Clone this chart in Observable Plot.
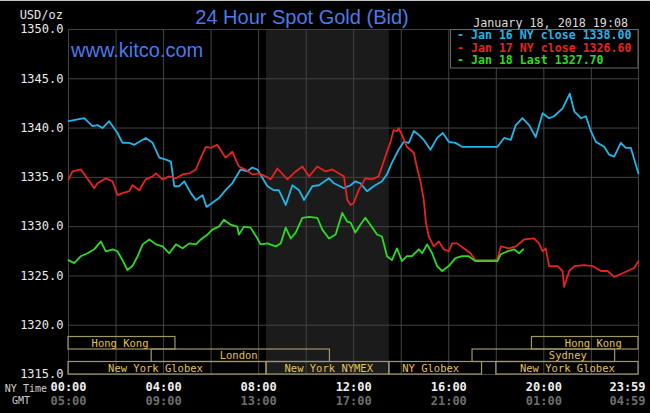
<!DOCTYPE html>
<html><head><meta charset="utf-8">
<script src="https://cdn.jsdelivr.net/npm/d3@7"></script>
<script src="https://cdn.jsdelivr.net/npm/@observablehq/plot@0.6"></script>
<style>
html,body{margin:0;padding:0;background:#000;}
#chart{width:650px;height:413px;overflow:hidden;}
#chart svg{display:block;}
</style></head><body><div id="chart"></div>
<script>
// ---- data (hours after midnight NY time, USD/oz) ----
const hours16 = [0,0.66,1.01,1.22,1.43,1.71,2.06,2.27,2.56,2.77,3.25,3.54,3.82,4.10,4.31,4.45,4.66,4.87,5.15,5.36,5.64,5.81,6.33,6.61,6.89,7.24,7.52,7.73,7.95,8.37,8.64,8.85,9.14,9.42,9.70,9.91,10.26,10.54,10.96,11.17,11.59,11.87,12.07,12.28,12.56,12.84,13.19,13.40,13.61,13.89,14.11,14.32,14.53,14.74,14.95,15.23,15.51,15.75,16.00,16.28,16.56,16.98,17.40,18.05,18.33,18.61,18.82,19.10,19.38,19.66,19.95,20.22,20.43,20.79,21.09,21.28,21.56,21.77,21.98,22.19,22.54,22.75,22.96,23.24,23.45,23.66,23.98];
const values16 = [1340.7,1341.0,1340.2,1340.3,1340.0,1340.7,1339.5,1338.5,1338.5,1338.3,1339.0,1338.5,1337.0,1336.8,1336.6,1334.1,1334.1,1334.6,1333.4,1332.7,1333.2,1332.0,1332.9,1333.7,1334.4,1335.8,1335.6,1336.0,1335.8,1334.1,1333.7,1333.7,1332.2,1334.2,1333.7,1332.7,1334.1,1334.2,1334.9,1334.4,1333.9,1334.2,1334.6,1334.4,1333.6,1334.1,1334.6,1335.3,1336.5,1337.8,1338.6,1338.5,1339.7,1339.3,1338.8,1337.8,1339.0,1339.5,1338.6,1338.5,1338.1,1338.1,1338.1,1338.1,1339.0,1338.8,1340.3,1341.0,1340.3,1339.1,1341.5,1341.0,1341.2,1342.0,1343.5,1341.7,1341.0,1341.2,1339.7,1338.6,1338.1,1337.3,1337.1,1338.5,1338.0,1338.0,1335.4];

const hours17 = [0,0.17,0.52,0.73,1.08,1.22,1.57,1.85,2.06,2.27,2.56,2.69,2.98,3.25,3.54,3.68,3.96,4.24,4.52,4.80,5.08,5.36,5.57,5.78,5.98,6.26,6.61,6.89,7.17,7.45,7.73,8.01,8.29,8.51,8.79,9.21,9.56,9.84,10.12,10.47,10.82,11.10,11.45,11.59,11.73,11.87,12.00,12.21,12.49,12.77,13.05,13.19,13.40,13.55,13.68,13.82,13.89,14.03,14.24,14.53,14.67,14.81,14.95,15.04,15.16,15.37,15.58,15.79,16.00,16.14,16.35,16.63,16.91,17.12,17.89,18.05,18.19,18.54,18.82,19.17,19.59,19.80,19.95,20.08,20.22,20.58,20.79,20.85,21.07,21.28,21.70,22.05,22.40,22.68,22.96,23.24,23.52,23.80,23.98];
const values17 = [1334.8,1335.6,1335.8,1335.1,1333.9,1334.4,1334.9,1334.6,1333.2,1333.4,1333.6,1334.2,1333.7,1334.8,1335.1,1335.4,1334.8,1335.1,1334.9,1335.3,1335.4,1335.8,1337.0,1338.1,1338.0,1338.3,1337.0,1337.6,1336.1,1335.8,1335.3,1335.4,1335.1,1334.8,1335.9,1334.8,1335.6,1336.1,1335.1,1336.1,1335.6,1335.8,1335.3,1335.1,1332.7,1332.2,1332.4,1333.7,1334.9,1334.8,1335.1,1336.1,1337.6,1338.6,1339.8,1339.7,1340.0,1339.3,1338.1,1337.5,1335.9,1334.6,1332.7,1330.4,1329.0,1328.0,1328.5,1327.7,1327.5,1328.3,1328.3,1327.8,1327.3,1326.6,1326.6,1326.7,1328.0,1327.8,1328.0,1328.7,1328.8,1328.3,1327.5,1327.8,1326.0,1326.0,1325.5,1323.9,1325.5,1326.0,1326.1,1326.0,1325.5,1325.5,1324.9,1325.2,1325.5,1325.8,1326.5];

const hours18 = [0,0.24,0.52,0.80,1.08,1.36,1.57,1.85,2.06,2.27,2.48,2.69,2.91,3.12,3.40,3.68,3.96,4.24,4.52,4.80,5.08,5.36,5.57,5.85,6.05,6.33,6.54,6.82,7.10,7.17,7.38,7.66,7.95,8.08,8.37,8.72,8.93,9.14,9.35,9.56,9.84,10.12,10.47,10.68,10.96,11.24,11.52,11.73,11.87,12.07,12.28,12.49,12.70,12.98,13.19,13.40,13.61,13.82,14.03,14.24,14.45,14.74,14.88,15.09,15.30,15.51,15.72,16.00,16.28,16.56,16.84,17.12,18.05,18.19,18.47,18.75,18.96,19.13];
const values18 = [1326.6,1326.3,1327.0,1327.3,1327.7,1328.5,1327.5,1327.7,1327.5,1326.6,1325.6,1326.0,1327.0,1328.2,1328.7,1328.2,1328.0,1327.3,1328.2,1327.8,1328.3,1328.2,1328.7,1329.2,1329.7,1330.0,1330.7,1330.2,1330.0,1329.2,1330.0,1329.9,1328.8,1328.2,1328.3,1328.0,1328.3,1329.9,1328.8,1329.4,1330.9,1331.0,1330.9,1329.7,1328.8,1329.2,1331.4,1330.5,1330.4,1329.4,1330.2,1330.9,1330.2,1329.2,1329.0,1327.0,1326.6,1327.8,1326.5,1327.0,1327.0,1327.7,1327.3,1328.2,1327.3,1326.0,1325.5,1326.0,1326.8,1327.0,1327.0,1326.5,1326.5,1327.2,1327.5,1327.7,1327.3,1327.7];

const seriesNames = ["Jan 16 NY close 1338.00", "Jan 17 NY close 1326.60", "Jan 18 Last 1327.70"];
const seriesColors = ["#21b5ea", "#e52420", "#2bdc24"];

const yTicks = [1315, 1320, 1325, 1330, 1335, 1340, 1345, 1350];
const gridHours = [0, 2, 4, 6, 8, 10, 12, 14, 16, 18, 20, 22, 23 + 59/60];
const tickHours = [0, 4, 8, 12, 16, 20, 23 + 59/60];
const nyLabels = ["00:00", "04:00", "08:00", "12:00", "16:00", "20:00", "23:59"];
const gmtLabels = ["05:00", "09:00", "13:00", "17:00", "21:00", "01:00", "04:59"];

const nymexShade = [8 + 20/60, 13.5];

const sessionNames = ["Hong Kong", "London", "New York Globex", "New York NYMEX", "NY Globex", "New York Globex", "Sydney", "Hong Kong"];
const sessionStart = [0, 3.5, 0, 8 + 20/60, 13.5, 18, 17, 19.5];
const sessionEnd   = [4.5, 11, 8 + 20/60, 13.5, 17.4, 23 + 59/60, 23, 23 + 59/60];
const sessionRow   = [0, 1, 2, 2, 2, 2, 1, 0];
const sessionLabelAt = [2.17, 7.16, 3.66, 10.95, 15.24, 20.99, 21.01, 22.08];

// ---- chart ----
const rowH = 1.268; // value units per session row
const rowTop = r => 1315 + (3 - r) * rowH;
const rowBot = r => 1315 + (2 - r) * rowH;
const idx = a => a.map((_, i) => i);
const mono = "DejaVu Sans Mono, monospace";
const sans = "Liberation Sans, Arial, sans-serif";

const chart = Plot.plot({
  width: 650, height: 413,
  marginLeft: 68, marginRight: 12, marginTop: 29, marginBottom: 39,
  style: {background: "#000", color: "#e6e6e6", fontFamily: mono, fontSize: "12px", overflow: "visible"},
  x: {domain: [0, 23 + 59/60], axis: null},
  y: {domain: [1315, 1350], axis: null},
  marks: [
    Plot.rect([nymexShade], {x1: d => d[0], x2: d => d[1], y1: 1315, y2: 1350, fill: "#1b1b1b"}),
    Plot.ruleY(yTicks, {stroke: "#434343", strokeWidth: 1}),
    Plot.ruleX(gridHours, {stroke: "#434343", strokeWidth: 1}),
    Plot.rect(idx(sessionNames), {
      x1: i => sessionStart[i], x2: i => sessionEnd[i],
      y1: i => rowBot(sessionRow[i]), y2: i => rowTop(sessionRow[i]),
      fill: "none", stroke: "#9f9766", strokeWidth: 1.2
    }),
    Plot.text(idx(sessionNames), {
      x: i => sessionLabelAt[i], y: i => (rowTop(sessionRow[i]) + rowBot(sessionRow[i])) / 2,
      text: i => sessionNames[i], fill: "#e2c255", fontSize: 10.5, fontFamily: mono
    }),
    Plot.line(idx(hours16), {x: i => hours16[i], y: i => values16[i], stroke: seriesColors[0], strokeWidth: 1.8}),
    Plot.line(idx(hours17), {x: i => hours17[i], y: i => values17[i], stroke: seriesColors[1], strokeWidth: 1.8}),
    Plot.line(idx(hours18), {x: i => hours18[i], y: i => values18[i], stroke: seriesColors[2], strokeWidth: 1.8}),
    Plot.text(yTicks, {frameAnchor: "left", y: d => d, text: d => d.toFixed(1), textAnchor: "end", dx: -5, fill: "#ececec", fontSize: 12, fontFamily: mono}),
    Plot.text(idx(tickHours).slice(0, 6), {x: i => tickHours[i], frameAnchor: "bottom", lineAnchor: "middle", dy: 13, text: i => nyLabels[i], fill: "#f0f0f0", fontSize: 12, fontFamily: mono, fontWeight: "bold"}),
    Plot.text(idx(tickHours).slice(6), {x: i => tickHours[i], frameAnchor: "bottom", lineAnchor: "middle", dy: 13, dx: -11, text: i => nyLabels[i], fill: "#f0f0f0", fontSize: 12, fontFamily: mono, fontWeight: "bold"}),
    Plot.text(idx(tickHours).slice(0, 6), {x: i => tickHours[i], frameAnchor: "bottom", lineAnchor: "middle", dy: 27, text: i => gmtLabels[i], fill: "#6e6e6e", fontSize: 12, fontFamily: mono, fontWeight: "bold"}),
    Plot.text(idx(tickHours).slice(6), {x: i => tickHours[i], frameAnchor: "bottom", lineAnchor: "middle", dy: 27, dx: -11, text: i => gmtLabels[i], fill: "#6e6e6e", fontSize: 12, fontFamily: mono, fontWeight: "bold"})
  ]
});

const svg = d3.select(chart);
// thin top edge line of the image
svg.append("line").attr("x1", 0).attr("x2", 650).attr("y1", 0.5).attr("y2", 0.5).attr("stroke", "#c4c4c4");
// unit label
svg.append("text").attr("x", 63).attr("y", 15).attr("text-anchor", "end").attr("dominant-baseline", "middle")
  .attr("fill", "#e6e6e6").attr("font-family", mono).attr("font-size", 12).text("USD/oz");
// title
svg.append("text").attr("x", 302).attr("y", 24).attr("text-anchor", "middle")
  .attr("fill", "#4a7be8").attr("font-family", sans).attr("font-size", 20).text("24 Hour Spot Gold (Bid)");
// site
svg.append("text").attr("x", 71).attr("y", 57).attr("text-anchor", "start")
  .attr("fill", "#4a7be8").attr("font-family", sans).attr("font-size", 20).text("www.kitco.com");
// date stamp
svg.append("text").attr("x", 628).attr("y", 23).attr("text-anchor", "end").attr("dominant-baseline", "middle")
  .attr("fill", "#dcdcdc").attr("font-family", mono).attr("font-size", 11.7).text("January 18, 2018 19:08");
// legend box
svg.append("rect").attr("x", 450.5).attr("y", 29.5).attr("width", 187.5).attr("height", 38.5)
  .attr("fill", "#000").attr("stroke", "#6a6a6a");
seriesNames.forEach((name, i) => {
  svg.append("text").attr("x", 457).attr("y", 35.5 + i * 12.5).attr("text-anchor", "start").attr("dominant-baseline", "middle")
    .attr("fill", seriesColors[i]).attr("font-family", mono).attr("font-size", 11.6).attr("font-weight", "bold")
    .text("- " + name);
});
// axis row titles
svg.append("text").attr("x", 47).attr("y", 389).attr("text-anchor", "end").attr("dominant-baseline", "middle")
  .attr("fill", "#cfcfcf").attr("font-family", mono).attr("font-size", 10).text("NY Time");
svg.append("text").attr("x", 30).attr("y", 401).attr("text-anchor", "end").attr("dominant-baseline", "middle")
  .attr("fill", "#cfcfcf").attr("font-family", mono).attr("font-size", 10).text("GMT");

document.getElementById("chart").appendChild(chart);
</script>
</body></html>
